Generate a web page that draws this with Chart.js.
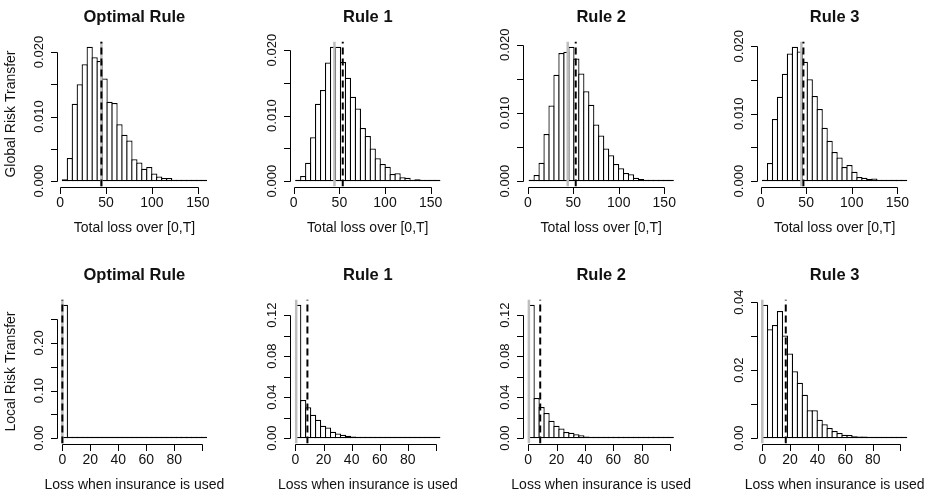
<!DOCTYPE html>
<html>
<head>
<meta charset="utf-8">
<script src="https://cdn.jsdelivr.net/npm/chart.js@4.4.1/dist/chart.umd.min.js"></script>
<style>
  html, body { margin: 0; padding: 0; background: #fff; }
  #fig { position: relative; width: 934px; height: 496px; overflow: hidden; }
  #fig canvas { position: absolute; }
</style>
</head>
<body>
<div id="fig"></div>
<script>
const FONT = '"Liberation Sans", Arial, Helvetica, sans-serif';

const titles = ['Optimal Rule', 'Rule 1', 'Rule 2', 'Rule 3'];
const yTitles = ['Global Risk Transfer', 'Local Risk Transfer'];
const xTitles = ['Total loss over [0,T]', 'Loss when insurance is used'];

// first and last histogram break, 29 equal bins in between
const globalRange = [[2.5, 159.4], [2.2, 160.1], [1.5, 159.9], [2.2, 160.2]];
const localRange = [[0, 103], [0.2, 102.8], [0.7, 102.4], [0.2, 104.5]];

// densities, top row (total loss over [0,T])
const globalOptimal = [0.0003, 0.0036, 0.0120, 0.0150, 0.0181, 0.0208, 0.0192, 0.0186, 0.0159, 0.0123,
  0.0121, 0.0088, 0.0072, 0.0063, 0.0034, 0.0029, 0.0019, 0.0022, 0.0012, 0.0007,
  0.0005, 0.0005, 0.0002, 0.0001, 0.00015, 0.00015, 0.00005, 0.00005, 0.0001];
const globalRule1 = [0.00015, 0.0008, 0.0028, 0.0067, 0.0118, 0.0139, 0.0181, 0.0205, 0.0205, 0.0182,
  0.0158, 0.0129, 0.0111, 0.0081, 0.0069, 0.0050, 0.0035, 0.0026, 0.0022, 0.0011,
  0.0012, 0.0006, 0.0005, 0.00015, 0.0003, 0.00015, 0.00005, 0.00005, 0.00015];
const globalRule2 = [0.0002, 0.0009, 0.0027, 0.0069, 0.0111, 0.0156, 0.0188, 0.0190, 0.0197, 0.0180,
  0.0158, 0.0132, 0.0112, 0.0083, 0.0067, 0.0048, 0.0038, 0.0025, 0.0019, 0.0012,
  0.0010, 0.0005, 0.0003, 0.0002, 0.00015, 0.0001, 0.00005, 0.00005, 0.00015];
const globalRule3 = [0.00015, 0.0027, 0.0092, 0.0125, 0.0159, 0.0189, 0.0199, 0.0192, 0.0177, 0.0151,
  0.0126, 0.0107, 0.0079, 0.0060, 0.0043, 0.0035, 0.0021, 0.0024, 0.0014, 0.0006,
  0.0005, 0.0003, 0.0004, 0.00015, 0.0001, 0.0001, 0.00005, 0.0001, 0.00015];

// densities, bottom row (loss when insurance is used)
const localOptimal = [0.280, 0.003, 0.0003, 0.0002, 0.0002, 0.0001, 0.0001, 0.0001, 0.0001, 0.0001,
  0.0001, 0.0001, 0.0001, 0.0001, 0.0001, 0.0001, 0.0001, 0.0001, 0.0001, 0.0001,
  0.0001, 0.0001, 0.0001, 0.0001, 0.0001, 0.0001, 0.0001, 0.0001, 0.0001];
const localRule1 = [0.130, 0.0373, 0.0301, 0.0229, 0.0180, 0.0121, 0.0105, 0.0062, 0.0046, 0.0033,
  0.0023, 0.0016, 0.0010, 0.0010, 0.0007, 0.0005, 0.0004, 0.0003, 0.0002, 0.0002,
  0.0002, 0.0001, 0.0001, 0.0001, 0.0001, 0.0001, 0.00005, 0.0001, 0.0001];
const localRule2 = [0.130, 0.0392, 0.0304, 0.0245, 0.0170, 0.0121, 0.0095, 0.0059, 0.0052, 0.0039,
  0.0029, 0.0016, 0.0010, 0.0007, 0.0007, 0.0004, 0.0003, 0.0003, 0.0002, 0.0002,
  0.0001, 0.0001, 0.0001, 0.0001, 0.0001, 0.0001, 0.00005, 0.00005, 0.0001];
const localRule3 = [0.0392, 0.0320, 0.0333, 0.0374, 0.0302, 0.0249, 0.0197, 0.0163, 0.0128, 0.0082,
  0.0082, 0.0054, 0.0041, 0.0030, 0.0021, 0.0015, 0.0010, 0.0009, 0.0006, 0.0005,
  0.0005, 0.0002, 0.0001, 0.0001, 0.0001, 0.0001, 0.0001, 0.0001, 0.0003];

// reference lines: grey solid and black dashed
const globalGrey = [45, 44.6, 43.9, 44.8];
const globalDashed = [45, 53.7, 52.7, 47];
const localGrey = [0, 0.5, 0.5, 0];
const localDashed = [0, 8.5, 8.5, 17];

// axes
const globalXTicks = [0, 50, 100, 150];
const globalXLabels = ['0', '50', '100', '150'];
const localXTicks = [0, 20, 40, 60, 80, 100];
const localXLabels = ['0', '20', '40', '60', '80', ''];
const globalYTicks = [0, 0.005, 0.010, 0.015, 0.020];
const globalYLabels = ['0.000', '', '0.010', '', '0.020'];
const localYTicks = [
  [0, 0.05, 0.10, 0.15, 0.20, 0.25],
  [0, 0.02, 0.04, 0.06, 0.08, 0.10, 0.12],
  [0, 0.02, 0.04, 0.06, 0.08, 0.10, 0.12],
  [0, 0.01, 0.02, 0.03, 0.04]
];
const localYLabels = [
  ['0.00', '', '0.10', '', '0.20', ''],
  ['0.00', '', '0.04', '', '0.08', '', '0.12'],
  ['0.00', '', '0.04', '', '0.08', '', '0.12'],
  ['0.00', '', '0.02', '', '0.04']
];

// page geometry of the plot regions
const colLeft = 56.6, colPitch = 233.4, plotWidth = 155.6;
const rowTop = [41.5, 299.5], rowBottom = [186.5, 443.5];
const canvasTop = [0, 252], canvasHeight = [252, 244];
const TICK = 6.5;
const BAR_EDGE = 1.25;

const globalDensity = [globalOptimal, globalRule1, globalRule2, globalRule3];
const localDensity = [localOptimal, localRule1, localRule2, localRule3];

const panels = [];
for (let c = 0; c < 4; c++) {
  panels.push({ row: 0, col: c, title: titles[c], range: globalRange[c], values: globalDensity[c],
    grey: globalGrey[c], dashed: globalDashed[c], xTicks: globalXTicks, xLabels: globalXLabels,
    yTicks: globalYTicks, yLabels: globalYLabels, xTitle: xTitles[0], yTitle: c === 0 ? yTitles[0] : '' });
}
for (let c = 0; c < 4; c++) {
  panels.push({ row: 1, col: c, title: titles[c], range: localRange[c], values: localDensity[c],
    grey: localGrey[c], dashed: localDashed[c], xTicks: localXTicks, xLabels: localXLabels,
    yTicks: localYTicks[c], yLabels: localYLabels[c], xTitle: xTitles[1], yTitle: c === 0 ? yTitles[1] : '' });
}

// base-R style axes, titles and labels
const rAxes = {
  id: 'rAxes',
  afterDatasetsDraw(chart, args, p) {
    const { ctx, chartArea: a, scales: { x, y } } = chart;
    const px = v => Math.round(x.getPixelForValue(v)) + 0.5;
    const py = v => Math.round(y.getPixelForValue(v)) + 0.5;
    const xb = Math.round(a.bottom) + 0.5;
    const yl = Math.round(a.left) + 0.5;
    ctx.save();
    ctx.strokeStyle = '#000';
    ctx.lineWidth = 1;
    ctx.beginPath();
    ctx.moveTo(px(p.xTicks[0]), xb);
    ctx.lineTo(px(p.xTicks[p.xTicks.length - 1]), xb);
    p.xTicks.forEach(v => { ctx.moveTo(px(v), xb); ctx.lineTo(px(v), xb + TICK); });
    ctx.moveTo(yl, py(p.yTicks[0]));
    ctx.lineTo(yl, py(p.yTicks[p.yTicks.length - 1]));
    p.yTicks.forEach(v => { ctx.moveTo(yl, py(v)); ctx.lineTo(yl - TICK, py(v)); });
    ctx.stroke();

    ctx.fillStyle = '#111';
    ctx.textAlign = 'center';
    ctx.textBaseline = 'middle';
    const cx = (a.left + a.right) / 2;

    ctx.font = `14px ${FONT}`;
    p.xTicks.forEach((v, i) => {
      if (p.xLabels[i]) ctx.fillText(p.xLabels[i], x.getPixelForValue(v), a.bottom + 17);
    });
    ctx.fillText(p.xTitle, cx, a.bottom + 41.5);

    ctx.font = `bold 16.5px ${FONT}`;
    ctx.fillText(p.title, cx, a.top - 24.5);

    ctx.font = `13px ${FONT}`;
    p.yTicks.forEach((v, i) => {
      if (!p.yLabels[i]) return;
      ctx.save();
      ctx.translate(a.left - 17.5, y.getPixelForValue(v));
      ctx.rotate(-Math.PI / 2);
      ctx.fillText(p.yLabels[i], 0, 0);
      ctx.restore();
    });
    if (p.yTitle) {
      ctx.font = `14px ${FONT}`;
      ctx.save();
      ctx.translate(a.left - 45, (a.top + a.bottom) / 2);
      ctx.rotate(-Math.PI / 2);
      ctx.fillText(p.yTitle, 0, 0);
      ctx.restore();
    }
    ctx.restore();
  }
};

const fig = document.getElementById('fig');

panels.forEach(p => {
  const left = Math.round(p.col * 233.5);
  const width = p.col === 3 ? 934 - left : Math.round((p.col + 1) * 233.5) - left;
  const top = canvasTop[p.row], height = canvasHeight[p.row];
  const regL = colLeft + p.col * colPitch, regR = regL + plotWidth;

  const canvas = document.createElement('canvas');
  canvas.width = width;
  canvas.height = height;
  canvas.style.left = left + 'px';
  canvas.style.top = top + 'px';
  canvas.style.width = width + 'px';
  canvas.style.height = height + 'px';
  fig.appendChild(canvas);

  const [r0, r1] = p.range;
  const n = p.values.length;
  const bw = (r1 - r0) / n;
  const bars = p.values.map((v, k) => ({ x: r0 + (k + 0.5) * bw, y: v }));
  const ymax = Math.max(...p.values);
  const yMin = -0.04 * ymax, yMax = 1.04 * ymax;
  const xMin = r0 - 0.04 * (r1 - r0), xMax = r1 + 0.04 * (r1 - r0);
  const binPx = plotWidth * bw / (xMax - xMin);

  new Chart(canvas, {
    type: 'bar',
    data: {
      datasets: [
        { type: 'line', order: 1, data: [{ x: p.dashed, y: yMin }, { x: p.dashed, y: yMax }],
          borderColor: '#000', borderWidth: 2, borderDash: [7, 4], pointRadius: 0, fill: false },
        { type: 'line', order: 2, data: [{ x: p.grey, y: yMin }, { x: p.grey, y: yMax }],
          borderColor: '#bebebe', borderWidth: 2.5, pointRadius: 0, fill: false },
        { type: 'bar', order: 3, data: bars, backgroundColor: '#fff', borderColor: '#000',
          borderWidth: BAR_EDGE, borderSkipped: false, barThickness: binPx + BAR_EDGE,
          minBarLength: 1.5, inflateAmount: 0 }
      ]
    },
    options: {
      responsive: false,
      devicePixelRatio: 1,
      animation: false,
      events: [],
      layout: {
        padding: {
          left: regL - left,
          right: left + width - regR,
          top: rowTop[p.row] - top,
          bottom: top + height - rowBottom[p.row]
        }
      },
      scales: {
        x: { type: 'linear', min: xMin, max: xMax, offset: false, display: false },
        y: { type: 'linear', min: yMin, max: yMax, display: false }
      },
      plugins: {
        legend: { display: false },
        tooltip: { enabled: false },
        rAxes: p
      }
    },
    plugins: [rAxes]
  });
});
</script>
</body>
</html>
